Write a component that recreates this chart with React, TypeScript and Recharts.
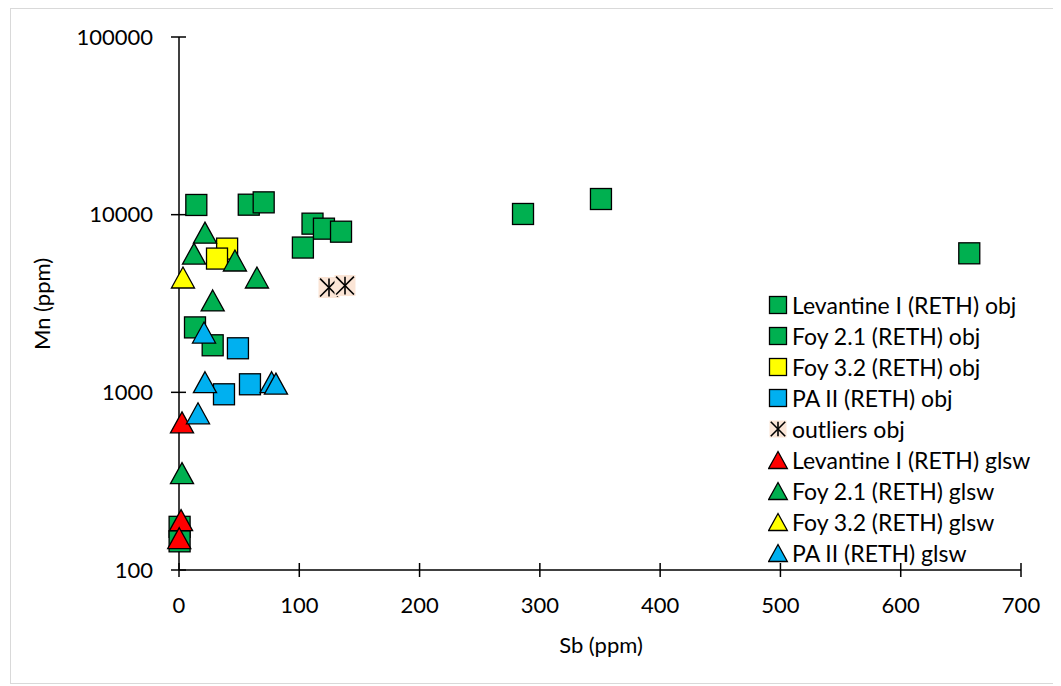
import React from 'react'
import { ScatterChart, Scatter, XAxis, YAxis } from 'recharts'

const FONT = 'Lato, "Liberation Sans", sans-serif'

type Pt = { x: number; y: number }

// Sb (ppm) vs Mn (ppm)
const levantineObj: Pt[] = [
  { x: 0.5, y: 175 },
  { x: 0.5, y: 145 },
]
const foy21Obj: Pt[] = [
  { x: 14.4, y: 11340 },
  { x: 58, y: 11380 },
  { x: 70.4, y: 11730 },
  { x: 111, y: 8900 },
  { x: 120.5, y: 8340 },
  { x: 134.7, y: 8020 },
  { x: 103, y: 6530 },
  { x: 286, y: 10090 },
  { x: 350.8, y: 12250 },
  { x: 657, y: 6060 },
  { x: 13.3, y: 2320 },
  { x: 28, y: 1840 },
]
const foy32Obj: Pt[] = [
  { x: 40, y: 6440 },
  { x: 31.6, y: 5660 },
]
const paObj: Pt[] = [
  { x: 49, y: 1770 },
  { x: 59, y: 1110 },
  { x: 37.4, y: 975 },
]
const outliersObj: Pt[] = [
  { x: 124.7, y: 3890 },
  { x: 138, y: 3990 },
]
const levantineGlsw: Pt[] = [
  { x: 2.5, y: 678 },
  { x: 1.7, y: 191 },
  { x: 0.2, y: 151 },
]
const foy21Glsw: Pt[] = [
  { x: 21.6, y: 7920 },
  { x: 12.5, y: 6040 },
  { x: 46.5, y: 5520 },
  { x: 64.8, y: 4430 },
  { x: 28, y: 3290 },
  { x: 2.5, y: 351 },
]
const foy32Glsw: Pt[] = [{ x: 3.3, y: 4430 }]
const paGlsw: Pt[] = [
  { x: 20.8, y: 2170 },
  { x: 21.6, y: 1140 },
  { x: 15.8, y: 762 },
  { x: 77, y: 1140 },
  { x: 80.6, y: 1120 },
]

const xTicks = [0, 100, 200, 300, 400, 500, 600, 700]
const yTicks = [100, 1000, 10000, 100000]

type Kind = 'square' | 'triangle' | 'star'

const series: { name: string; data: Pt[]; kind: Kind; color: string }[] = [
  { name: 'Levantine I (RETH) obj', data: levantineObj, kind: 'square', color: '#00B050' },
  { name: 'Foy 2.1 (RETH) obj', data: foy21Obj, kind: 'square', color: '#00B050' },
  { name: 'Foy 3.2 (RETH) obj', data: foy32Obj, kind: 'square', color: '#FFFF00' },
  { name: 'PA II (RETH) obj', data: paObj, kind: 'square', color: '#00B0F0' },
  { name: 'outliers obj', data: outliersObj, kind: 'star', color: '#FBE5D6' },
  { name: 'Levantine I (RETH) glsw', data: levantineGlsw, kind: 'triangle', color: '#FF0000' },
  { name: 'Foy 2.1 (RETH) glsw', data: foy21Glsw, kind: 'triangle', color: '#00B050' },
  { name: 'Foy 3.2 (RETH) glsw', data: foy32Glsw, kind: 'triangle', color: '#FFFF00' },
  { name: 'PA II (RETH) glsw', data: paGlsw, kind: 'triangle', color: '#00B0F0' },
]

function Marker({ kind, color, cx, cy, s }: { kind: Kind; color: string; cx: number; cy: number; s: number }) {
  const h = s / 2
  if (kind === 'square') {
    return <rect x={cx - h} y={cy - h} width={s} height={s} fill={color} stroke="#000" strokeWidth={1.3} />
  }
  if (kind === 'triangle') {
    const w = s * 1.1
    return (
      <polygon
        points={`${cx},${cy - h} ${cx + w / 2},${cy + h} ${cx - w / 2},${cy + h}`}
        fill={color}
        stroke="#000"
        strokeWidth={1.3}
      />
    )
  }
  const r = h * 0.85
  return (
    <g>
      <rect x={cx - h} y={cy - h} width={s} height={s} fill={color} />
      <line x1={cx} y1={cy - r} x2={cx} y2={cy + r} stroke="#000" strokeWidth={1.6} />
      <line x1={cx - r} y1={cy - r} x2={cx + r} y2={cy + r} stroke="#000" strokeWidth={1.6} />
      <line x1={cx - r} y1={cy + r} x2={cx + r} y2={cy - r} stroke="#000" strokeWidth={1.6} />
    </g>
  )
}

const XTick = (props: any) => {
  const { x, y, payload } = props
  return (
    <g>
      <line x1={x} y1={y - 7} x2={x} y2={y + 7} stroke="#000" strokeWidth={1.5} />
      <text x={x} y={y + 35} dy="0.35em" textAnchor="middle" fontSize={22} fill="#000" fontFamily={FONT}>
        {payload.value}
      </text>
    </g>
  )
}

const YTick = (props: any) => {
  const { x, y, payload } = props
  return (
    <g>
      <line x1={x - 8} y1={y} x2={x + 7} y2={y} stroke="#000" strokeWidth={1.5} />
      <text x={x - 26} y={y} dy="0.35em" textAnchor="end" fontSize={22} fill="#000" fontFamily={FONT}>
        {payload.value}
      </text>
    </g>
  )
}

export default function App() {
  return (
    <div
      style={{
        position: 'relative',
        width: 1048,
        height: 674,
        marginLeft: 2,
        border: '1px solid #d9d9d9',
        fontFamily: FONT,
        background: '#fff',
      }}
    >
      <ScatterChart width={1045} height={672} margin={{ top: 28, right: 35, bottom: 51, left: 0 }}>
        <XAxis
          type="number"
          dataKey="x"
          domain={[0, 700]}
          ticks={xTicks}
          tickSize={0}
          tickMargin={0}
          tick={<XTick />}
          axisLine={{ stroke: '#000', strokeWidth: 1.5 }}
          height={60}
        />
        <YAxis
          type="number"
          dataKey="y"
          scale="log"
          domain={[100, 100000]}
          ticks={yTicks}
          tickSize={0}
          tickMargin={0}
          tick={<YTick />}
          axisLine={{ stroke: '#000', strokeWidth: 1.5 }}
          width={168}
        />
        {series.map((s) => (
          <Scatter
            key={s.name}
            name={s.name}
            data={s.data}
            isAnimationActive={false}
            shape={(p: any) => <Marker kind={s.kind} color={s.color} cx={p.cx} cy={p.cy} s={21} />}
          />
        ))}
      </ScatterChart>

      <div
        style={{
          position: 'absolute',
          left: 30,
          top: 295,
          transform: 'translate(-50%, -50%) rotate(-90deg)',
          whiteSpace: 'nowrap',
          fontSize: 22,
        }}
      >
        Mn (ppm)
      </div>
      <div style={{ position: 'absolute', left: 0, width: 1180, top: 622, textAlign: 'center', fontSize: 22 }}>
        Sb (ppm)
      </div>

      <div style={{ position: 'absolute', left: 757, top: 280 }}>
        {series.map((s) => (
          <div key={s.name} style={{ display: 'flex', alignItems: 'center', height: 31, fontSize: 23 }}>
            <svg width={22} height={20} style={{ marginRight: 2 }}>
              <Marker kind={s.kind} color={s.color} cx={10} cy={10} s={17} />
            </svg>
            <span>{s.name}</span>
          </div>
        ))}
      </div>
    </div>
  )
}
